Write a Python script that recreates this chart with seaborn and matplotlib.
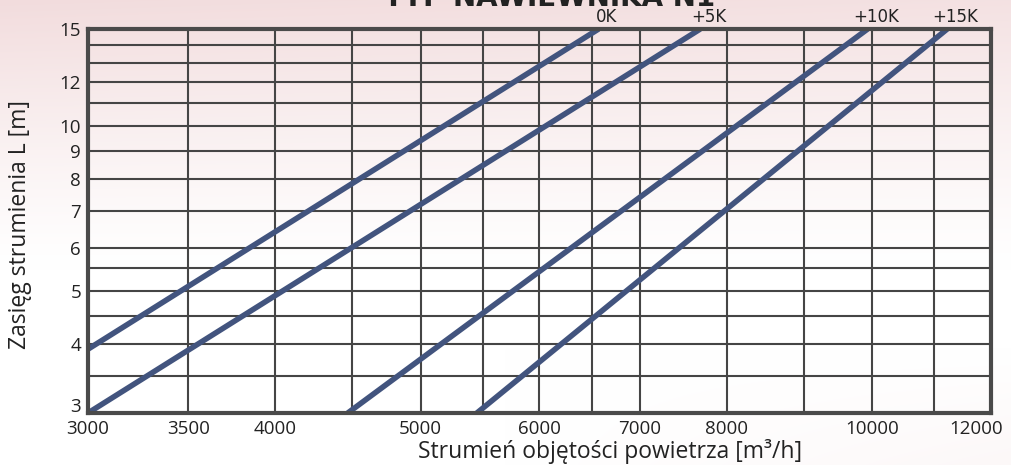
import numpy as np
import pandas as pd
import matplotlib
matplotlib.use("Agg")
import matplotlib.pyplot as plt
import matplotlib.transforms as mtransforms
import seaborn as sns
from matplotlib.ticker import FixedLocator, NullFormatter, FixedFormatter

# ---- data ----
series_names = ["0K", "+5K", "+10K", "+15K"]
airflow_0K = [3000, 6570]
range_0K = [3.92, 15.0]
airflow_5K = [3000, 7680]
range_5K = [3.0, 15.0]
airflow_10K = [4470, 9930]
range_10K = [3.0, 15.0]
airflow_15K = [5450, 11220]
range_15K = [3.0, 15.0]

x_major = [3000, 3500, 4000, 5000, 6000, 7000, 8000, 10000, 12000]
x_minor = [4500, 5500, 6500, 9000, 11000]
y_major = [3, 4, 5, 6, 7, 8, 9, 10, 12, 15]
y_minor = [3.5, 4.5, 5.5, 11, 13, 14]

title_text = "TYP NAWIEWNIKA N1"
xlabel_text = "Strumień objętości powietrza [m³/h]"
ylabel_text = "Zasięg strumienia L [m]"

rows = []
for name, xs, ys in zip(series_names,
                        [airflow_0K, airflow_5K, airflow_10K, airflow_15K],
                        [range_0K, range_5K, range_10K, range_15K]):
    for x, y in zip(xs, ys):
        rows.append({"series": name, "airflow": x, "range": y})
df = pd.DataFrame(rows)

sns.set_theme(style="white")
plt.rcParams['font.family'] = ['Open Sans', 'DejaVu Sans']

W, H = 1011, 465
fig = plt.figure(figsize=(W / 100, H / 100), dpi=100)

# background gradient
yy = np.linspace(0, 1, H)[:, None]
xx = np.linspace(0, 1, W)[None, :]
p = np.clip(1 - yy / 0.58, 0, 1) ** 1.2 * (0.85 + 0.15 * (1 - xx))
p = p + 0.2 * np.clip((yy - 0.75) / 0.25, 0, 1) * np.clip((xx - 0.5) / 0.5, 0, 1)
pink = np.array([242, 220, 221]) / 255.0
img = 1 - p[..., None] * (1 - pink[None, None, :])
bg = fig.add_axes([0, 0, 1, 1], zorder=-10)
bg.imshow(img, aspect="auto", extent=[0, 1, 0, 1])
bg.axis("off")

ax = fig.add_axes([88 / W, 1 - 413 / H, (991 - 88) / W, (413 - 29) / H])
ax.set_facecolor("none")

line_color = "#42547e"
sns.lineplot(data=df, x="airflow", y="range", hue="series", units="series",
             estimator=None, palette=[line_color] * 4, linewidth=4.0,
             legend=False, ax=ax, zorder=5, solid_capstyle="butt")

ax.set_xscale("log")
ax.set_yscale("log")
ax.set_xlim(3000, 12000)
ax.set_ylim(3, 15)

ax.xaxis.set_major_locator(FixedLocator(x_major))
ax.xaxis.set_major_formatter(FixedFormatter([str(v) for v in x_major]))
ax.xaxis.set_minor_locator(FixedLocator(x_minor))
ax.xaxis.set_minor_formatter(NullFormatter())
ax.yaxis.set_major_locator(FixedLocator(y_major))
ax.yaxis.set_major_formatter(FixedFormatter([str(v) for v in y_major]))
ax.yaxis.set_minor_locator(FixedLocator(y_minor))
ax.yaxis.set_minor_formatter(NullFormatter())

grid_color = "#454545"
ax.grid(True, which="both", color=grid_color, linewidth=1.5)
ax.set_axisbelow(True)
ax.tick_params(which="both", length=0)
ax.tick_params(axis="x", labelsize=13.5, pad=5, colors="#222222")
ax.tick_params(axis="y", labelsize=13.5, pad=5, colors="#222222")
for s in ax.spines.values():
    s.set_visible(True)
    s.set_color("#4a4a4a")
    s.set_linewidth(3)
    s.set_zorder(6)

fig.canvas.draw()
last = ax.get_xticklabels()[-1]
last.set_horizontalalignment("right")
last.set_transform(last.get_transform() +
                   mtransforms.ScaledTranslation(12 / 100, 0, fig.dpi_scale_trans))
first_y = ax.get_yticklabels()[0]
first_y.set_transform(first_y.get_transform() +
                      mtransforms.ScaledTranslation(0, 8 / 100, fig.dpi_scale_trans))

ax.set_xlabel(xlabel_text, fontsize=16.5, color="#222222")
ax.xaxis.set_label_coords((610 - 88) / 903, -0.068)
ax.set_ylabel(ylabel_text, fontsize=16.5, color="#222222")
ax.yaxis.set_label_coords(-0.062, 0.49)

# series labels above the line ends
for name, xs in zip(series_names, [airflow_0K, airflow_5K, airflow_10K, airflow_15K]):
    ax.annotate(name, xy=(xs[-1], 15), xytext=(6, 2.5), textcoords="offset points",
                ha="center", va="bottom", fontsize=12, color="#222222",
                family=["DejaVu Sans"], annotation_clip=False)

fig.text(550 / W, 1 - 6 / H, title_text, ha="center", va="baseline",
         fontsize=20, fontweight="bold", color="#222222", family=["DejaVu Sans"])

fig.savefig("out.png", dpi=100)
